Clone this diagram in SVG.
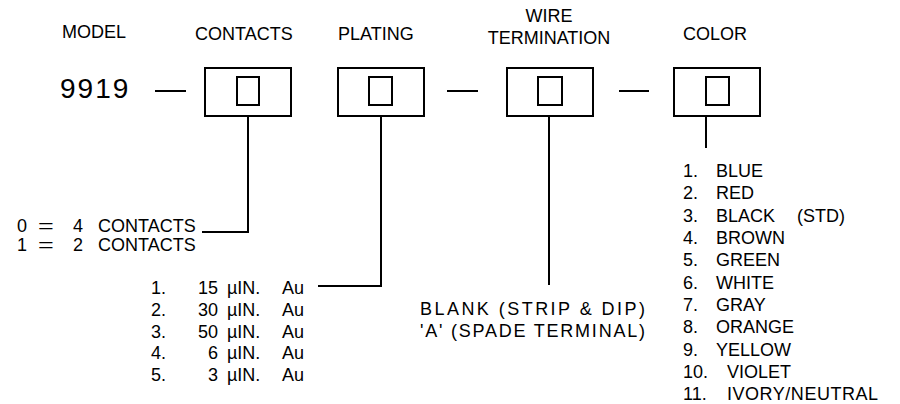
<svg xmlns="http://www.w3.org/2000/svg" width="900" height="404" viewBox="0 0 900 404">
<style>
text{font-family:"Liberation Sans",Arial,sans-serif;font-size:18px;fill:#000}
.big{font-size:28px;letter-spacing:2px}
.mid{text-anchor:middle}
.end{text-anchor:end}
.box{fill:#fff;stroke:#000;stroke-width:2}
.ln{fill:none;stroke:#000;stroke-width:2}
</style>
<rect width="900" height="404" fill="#fff"/>
<g id="headers">
<text x="62" y="38">MODEL</text>
<text x="195" y="40">CONTACTS</text>
<text x="338" y="40">PLATING</text>
<text x="549" y="22" class="mid">WIRE</text>
<text x="549" y="44" class="mid">TERMINATION</text>
<text x="683" y="40">COLOR</text>
</g>
<g id="model">
<text x="60" y="98" class="big">9919</text>
</g>
<g id="box-contacts">
<rect x="205" y="68" width="86" height="48" class="box"/>
<rect x="237" y="77" width="22" height="28" class="box"/>
</g>
<g id="box-plating">
<rect x="338" y="68" width="86" height="48" class="box"/>
<rect x="369" y="77" width="23" height="28" class="box"/>
</g>
<g id="box-wire">
<rect x="507" y="68" width="86" height="48" class="box"/>
<rect x="538" y="77" width="24" height="28" class="box"/>
</g>
<g id="box-color">
<rect x="674" y="68" width="86" height="48" class="box"/>
<rect x="706" y="77" width="23" height="28" class="box"/>
</g>
<g id="connectors">
<line x1="155" y1="91" x2="186" y2="91" class="ln"/>
<line x1="447" y1="91" x2="478" y2="91" class="ln"/>
<line x1="619" y1="91" x2="649" y2="91" class="ln"/>
<polyline points="248,116 248,232 202,232" class="ln"/>
<polyline points="381,116 381,286 318,286" class="ln"/>
<line x1="549" y1="116" x2="549" y2="285" class="ln"/>
<line x1="706" y1="116" x2="706" y2="148" class="ln"/>
</g>
<g id="contacts-options">
<text x="17" y="232">0</text><text class="mid" transform="translate(46,232) scale(1.5,1)">=</text><text x="73" y="232">4</text><text x="98" y="232">CONTACTS</text>
<text x="17" y="251">1</text><text class="mid" transform="translate(46,251) scale(1.5,1)">=</text><text x="73" y="251">2</text><text x="98" y="251">CONTACTS</text>
</g>
<g id="plating-options">
<text x="151" y="294">1.</text><text x="218" y="294" class="end">15</text><text x="227" y="294">µIN.</text><text x="282" y="294">Au</text>
<text x="151" y="316">2.</text><text x="218" y="316" class="end">30</text><text x="227" y="316">µIN.</text><text x="282" y="316">Au</text>
<text x="151" y="338">3.</text><text x="218" y="338" class="end">50</text><text x="227" y="338">µIN.</text><text x="282" y="338">Au</text>
<text x="151" y="359">4.</text><text x="218" y="359" class="end">6</text><text x="227" y="359">µIN.</text><text x="282" y="359">Au</text>
<text x="151" y="381">5.</text><text x="218" y="381" class="end">3</text><text x="227" y="381">µIN.</text><text x="282" y="381">Au</text>
</g>
<g id="wire-options">
<text x="420" y="315" textLength="225" lengthAdjust="spacing">BLANK (STRIP &amp; DIP)</text>
<text x="420" y="337" textLength="225" lengthAdjust="spacing">'A' (SPADE TERMINAL)</text>
</g>
<g id="color-options">
<text x="683" y="177">1.</text><text x="716" y="177">BLUE</text>
<text x="683" y="199">2.</text><text x="716" y="199">RED</text>
<text x="683" y="222">3.</text><text x="716" y="222">BLACK</text><text x="797" y="222">(STD)</text>
<text x="683" y="244">4.</text><text x="716" y="244">BROWN</text>
<text x="683" y="266">5.</text><text x="716" y="266">GREEN</text>
<text x="683" y="289">6.</text><text x="716" y="289">WHITE</text>
<text x="683" y="311">7.</text><text x="716" y="311">GRAY</text>
<text x="683" y="333">8.</text><text x="716" y="333">ORANGE</text>
<text x="683" y="356">9.</text><text x="716" y="356">YELLOW</text>
<text x="683" y="378">10.</text><text x="727" y="378">VIOLET</text>
<text x="683" y="400">11.</text><text x="727" y="400" textLength="151" lengthAdjust="spacing">IVORY/NEUTRAL</text>
</g>
</svg>
